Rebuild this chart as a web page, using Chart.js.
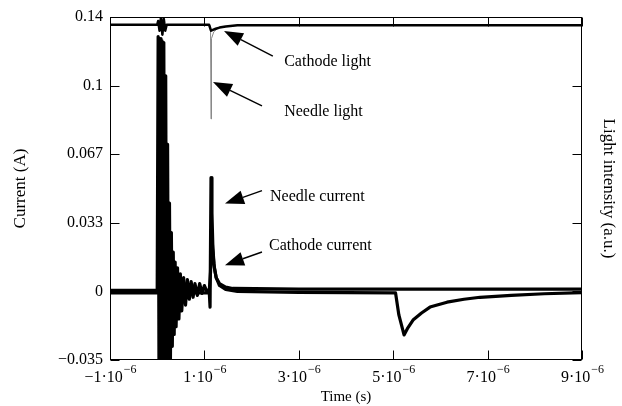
<!DOCTYPE html>
<html>
<head>
<meta charset="utf-8">
<script src="https://cdn.jsdelivr.net/npm/chart.js@4.4.1/dist/chart.umd.min.js"></script>
<style>
  html, body { margin: 0; padding: 0; background: #fff; }
  #wrap { width: 622px; height: 406px; }
</style>
</head>
<body>
<div id="wrap"><canvas id="chart" width="622" height="406"></canvas></div>
<script>
// time is in microseconds, current in A
var timeTicks = [-1, 1, 3, 5, 7, 9];
var timeTickBase = ['\u22121\u00b710', '1\u00b710', '3\u00b710', '5\u00b710', '7\u00b710', '9\u00b710'];
var timeTickExp = '\u22126';
var currentTicks = [-0.035, 0, 0.035, 0.07, 0.105, 0.14];
var currentTickLabels = ['\u22120.035', '0', '0.033', '0.067', '0.1', '0.14'];

var needleTime = [-1.0, -0.5, 0.0, 0.02, 0.04, 0.06, 0.08, 0.10, 0.12, 0.14, 0.16, 0.18, 0.20, 0.22, 0.24, 0.26, 0.28, 0.30, 0.32, 0.34, 0.36, 0.38, 0.40,
  0.43, 0.46, 0.49, 0.52, 0.56, 0.60, 0.64, 0.68, 0.72, 0.76, 0.80, 0.85, 0.90, 0.95, 1.00, 1.05,
  1.10, 1.12, 1.14, 1.16, 1.18, 1.21, 1.25, 1.32, 1.45, 1.6, 3.0, 5.0, 7.0, 9.0];
var needleCurrent = [0.0005, 0.0005, 0.0005, 0.130, -0.060, 0.129, -0.060, 0.128, -0.060, 0.127, -0.058, 0.110, -0.055, 0.075, -0.050, 0.045, -0.036, 0.030, -0.028, 0.020, -0.022, 0.015, -0.018,
  0.012, -0.014, 0.009, -0.010, 0.007, -0.007, 0.006, -0.004, 0.005, -0.003, 0.004, -0.002, 0.004, -0.001, 0.003, 0.000,
  0.001, -0.008, 0.058, 0.040, 0.022, 0.012, 0.007, 0.004, 0.0022, 0.0015, 0.0012, 0.0012, 0.0012, 0.0012];

var cathodeTime = [-1.0, 1.10, 1.13, 1.15, 1.17, 1.20, 1.25, 1.32, 1.45, 1.7, 3.0, 5.05, 5.12, 5.23, 5.30, 5.42, 5.60, 5.78, 6.14, 6.50, 6.84, 7.5, 8.2, 9.0];
var cathodeCurrent = [-0.0008, -0.0008, 0.010, 0.031, 0.024, 0.014, 0.007, 0.003, 0.001, 0.0, -0.0005, -0.0008, -0.012, -0.0222, -0.019, -0.0146, -0.011, -0.008, -0.0055, -0.004, -0.003, -0.002, -0.0012, -0.0006];

var lightTime = [-1.0, 0.0, 0.02, 0.05, 0.08, 0.11, 0.14, 0.17, 0.20, 1.10, 1.14, 1.18, 1.24, 1.32, 1.45, 1.7, 9.0];
var cathodeLight = [0.1360, 0.1360, 0.138, 0.133, 0.140, 0.131, 0.139, 0.133, 0.136, 0.136, 0.1330, 0.1334, 0.1340, 0.1346, 0.1352, 0.1358, 0.1358];

var needleLightTime = [1.05, 1.13, 1.14, 1.15, 1.20, 1.30];
var needleLight = [0.1358, 0.1355, 0.088, 0.129, 0.1325, 0.1345];

// labels with arrows, in data units
var noteLabels = ['Cathode light', 'Needle light', 'Needle current', 'Cathode current'];
var noteTextX = [2.69, 2.69, 2.39, 2.37];
var noteTextY = [0.117, 0.0915, 0.0481, 0.0232];
var arrowTailX = [2.45, 2.22, 2.22, 2.22];
var arrowTailY = [0.1201, 0.0946, 0.0514, 0.0201];
var arrowTipX = [1.415, 1.182, 1.436, 1.436];
var arrowTipY = [0.1329, 0.1068, 0.0448, 0.0134];

function pts(xs, ys) {
  return xs.map(function (x, i) { return { x: x, y: ys[i] }; });
}

Chart.defaults.font.family = '"Liberation Serif", "DejaVu Serif", serif';
Chart.defaults.color = '#000';

var frame = {
  id: 'frame',
  afterDatasetsDraw: function (chart) {
    var ctx = chart.ctx, a = chart.chartArea;
    var x = chart.scales.x, y = chart.scales.y;
    var l = Math.round(a.left) + 0.5, r = Math.round(a.right) - 0.5;
    var t = Math.round(a.top) + 0.5, b = Math.round(a.bottom) - 0.5;
    ctx.save();
    ctx.strokeStyle = '#000';
    ctx.lineWidth = 1;
    ctx.strokeRect(l, t, r - l, b - t);
    ctx.beginPath();
    timeTicks.forEach(function (v) {
      var px = Math.round(x.getPixelForValue(v)) + 0.5;
      ctx.moveTo(px, b); ctx.lineTo(px, b - 9);
      ctx.moveTo(px, t); ctx.lineTo(px, t + 9);
    });
    currentTicks.forEach(function (v) {
      var py = Math.round(y.getPixelForValue(v)) + 0.5;
      ctx.moveTo(l, py); ctx.lineTo(l + 9, py);
      ctx.moveTo(r, py); ctx.lineTo(r - 9, py);
    });
    ctx.stroke();

    // time tick labels with raised exponent
    ctx.fillStyle = '#000';
    ctx.textBaseline = 'alphabetic';
    ctx.textAlign = 'left';
    timeTicks.forEach(function (v, i) {
      ctx.font = '16px "Liberation Serif", serif';
      var wm = ctx.measureText(timeTickBase[i]).width;
      ctx.font = '12px "Liberation Serif", serif';
      var we = ctx.measureText(timeTickExp).width;
      var x0 = x.getPixelForValue(v) - (wm + we) / 2;
      ctx.font = '16px "Liberation Serif", serif';
      ctx.fillText(timeTickBase[i], x0, a.bottom + 22);
      ctx.font = '12px "Liberation Serif", serif';
      ctx.fillText(timeTickExp, x0 + wm + 1, a.bottom + 13);
    });

    // annotations
    ctx.font = '16px "Liberation Serif", serif';
    ctx.textBaseline = 'middle';
    noteLabels.forEach(function (txt, i) {
      ctx.fillText(txt, x.getPixelForValue(noteTextX[i]), y.getPixelForValue(noteTextY[i]));
      var x0 = x.getPixelForValue(arrowTailX[i]), y0 = y.getPixelForValue(arrowTailY[i]);
      var x1 = x.getPixelForValue(arrowTipX[i]), y1 = y.getPixelForValue(arrowTipY[i]);
      var ang = Math.atan2(y1 - y0, x1 - x0);
      var hl = 19, hw = 7;
      var bx = x1 - hl * Math.cos(ang), by = y1 - hl * Math.sin(ang);
      ctx.beginPath();
      ctx.lineWidth = 1.4;
      ctx.moveTo(x0, y0); ctx.lineTo(bx, by);
      ctx.stroke();
      ctx.beginPath();
      ctx.moveTo(x1, y1);
      ctx.lineTo(bx + hw * Math.sin(ang), by - hw * Math.cos(ang));
      ctx.lineTo(bx - hw * Math.sin(ang), by + hw * Math.cos(ang));
      ctx.closePath();
      ctx.fill();
    });
    ctx.restore();
  }
};

var lineStyle = { showLine: true, pointRadius: 0, tension: 0, borderJoinStyle: 'round', fill: false };

new Chart(document.getElementById('chart'), {
  type: 'scatter',
  data: {
    datasets: [
      Object.assign({ label: 'Cathode light', data: pts(lightTime, cathodeLight), yAxisID: 'y2', borderColor: '#000', borderWidth: 2.5 }, lineStyle),
      Object.assign({ label: 'Needle light', data: pts(needleLightTime, needleLight), yAxisID: 'y2', borderColor: '#888', borderWidth: 1 }, lineStyle),
      Object.assign({ label: 'Cathode current', data: pts(cathodeTime, cathodeCurrent), yAxisID: 'y', borderColor: '#000', borderWidth: 3.2 }, lineStyle),
      Object.assign({ label: 'Needle current', data: pts(needleTime, needleCurrent), yAxisID: 'y', borderColor: '#000', borderWidth: 3.2 }, lineStyle)
    ]
  },
  options: {
    responsive: false,
    animation: false,
    devicePixelRatio: 1,
    layout: { padding: { top: 17, left: 0, right: 0, bottom: 0 } },
    plugins: { legend: { display: false }, tooltip: { enabled: false } },
    scales: {
      x: {
        type: 'linear', position: 'bottom', min: -1, max: 9,
        grid: { display: false, drawTicks: false },
        border: { display: false },
        afterBuildTicks: function (s) { s.ticks = timeTicks.map(function (v) { return { value: v }; }); },
        afterFit: function (s) { s.height = 46; },
        ticks: { display: false },
        title: { display: true, text: 'Time (s)', font: { size: 15 }, padding: { top: 0, bottom: 0 } }
      },
      y: {
        type: 'linear', position: 'left', min: -0.035, max: 0.14,
        grid: { display: false, drawTicks: false },
        border: { display: false },
        afterBuildTicks: function (s) { s.ticks = currentTicks.map(function (v) { return { value: v }; }); },
        afterFit: function (s) { s.width = 110; },
        ticks: {
          autoSkip: false, padding: 7,
          font: { size: 16 },
          callback: function (v, i) { return currentTickLabels[i]; }
        },
        title: { display: true, text: 'Current (A)', font: { size: 17 }, padding: { top: 10, bottom: 0 } }
      },
      y2: {
        type: 'linear', position: 'right', min: -0.035, max: 0.14, display: true,
        grid: { display: false, drawTicks: false },
        border: { display: false },
        afterFit: function (s) { s.width = 40; },
        ticks: { display: false },
        title: { display: true, text: 'Light intensity (a.u.)', font: { size: 17 }, padding: { top: 3, bottom: 0 } }
      }
    }
  },
  plugins: [frame]
});
</script>
</body>
</html>
